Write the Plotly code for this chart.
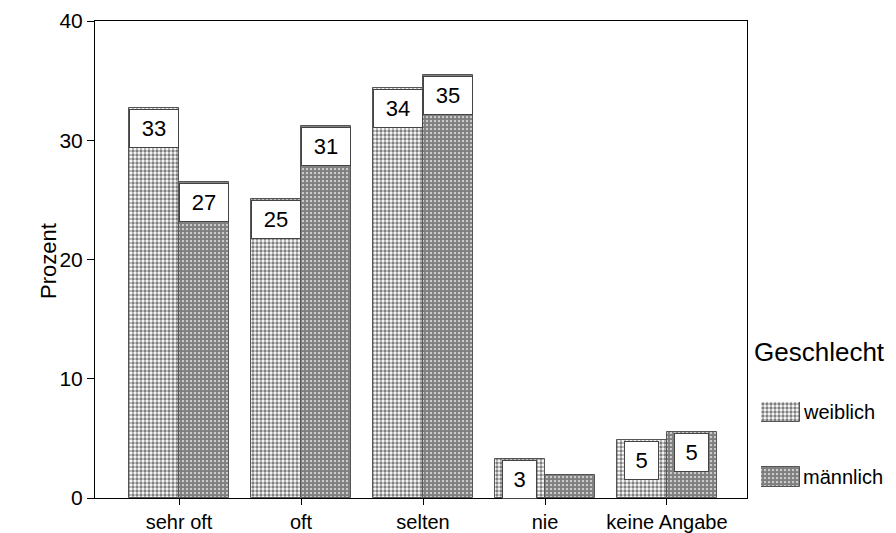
import plotly.graph_objects as go

# Häufigkeit nach Geschlecht (Prozent)
categories = ["sehr oft", "oft", "selten", "nie", "keine Angabe"]
weiblich = [32.7, 25.1, 34.4, 3.3, 4.9]
maennlich = [26.5, 31.2, 35.5, 1.9, 5.5]
labels_w = ["33", "25", "34", "3", "5"]
labels_m = ["27", "31", "35", "", "5"]
y_ticks = [0, 10, 20, 30, 40]

FONT = "Arial, Liberation Sans, sans-serif"
BAR_W = 0.41
PAT_W = dict(shape=".", size=4, solidity=0.55, fgcolor="black", bgcolor="white")
PAT_M = dict(shape=".", size=4, solidity=0.8, fgcolor="black", bgcolor="white")
EDGE = dict(color="#555", width=1)

# the page body has an 8px margin, so the figure is 8px smaller than the window
OFF = 8
W, H = 896 - OFF, 533 - OFF
L, B, T = 95 - OFF, 35, 21 - OFF
pw = W - L
ph = H - B - T


def px(x_ref):
    return (x_ref - OFF - L) / pw


def py(y_ref):
    return (H - B - (y_ref - OFF)) / ph


x_pos = list(range(len(categories)))

fig = go.Figure()
fig.add_trace(go.Bar(
    x=x_pos, y=weiblich, offset=-BAR_W, width=BAR_W, name="weiblich",
    marker=dict(color="white", pattern=PAT_W, line=EDGE), showlegend=False,
))
fig.add_trace(go.Bar(
    x=x_pos, y=maennlich, offset=0, width=BAR_W, name="männlich",
    marker=dict(color="white", pattern=PAT_M, line=EDGE), showlegend=False,
))

# legend swatches drawn on a small helper axis in the right margin
fig.add_trace(go.Bar(
    x=[0], y=[20], base=[65], width=[1], offset=[-0.5], xaxis="x2", yaxis="y2",
    marker=dict(color="white", pattern=PAT_W, line=EDGE),
    showlegend=False, hoverinfo="skip",
))
fig.add_trace(go.Bar(
    x=[0], y=[20], base=[0], width=[1], offset=[-0.5], xaxis="x2", yaxis="y2",
    marker=dict(color="white", pattern=PAT_M, line=EDGE),
    showlegend=False, hoverinfo="skip",
))

# value boxes at the bar tops
for vals, labs, shift in ((weiblich, labels_w, -BAR_W / 2), (maennlich, labels_m, BAR_W / 2)):
    for i, (v, lab) in enumerate(zip(vals, labs)):
        if not lab:
            continue
        fig.add_annotation(
            x=i + shift, y=v, xref="x", yref="y", yanchor="top", yshift=-1,
            text=lab, showarrow=False, font=dict(family=FONT, size=22, color="black"),
            bgcolor="white", bordercolor="#444", borderwidth=1, borderpad=2,
            width=44 if len(lab) > 1 else 29, height=33,
        )

fig.add_annotation(x=px(48), y=py(261), xref="paper", yref="paper",
                   xanchor="center", yanchor="middle", text="Prozent", textangle=-90,
                   showarrow=False, font=dict(family=FONT, size=22, color="black"))
fig.add_annotation(x=px(752), y=py(352), xref="paper", yref="paper",
                   xanchor="left", yanchor="middle", text="Geschlecht", showarrow=False,
                   font=dict(family=FONT, size=26, color="black"))
fig.add_annotation(x=px(801), y=py(412), xref="paper", yref="paper",
                   xanchor="left", yanchor="middle", text="weiblich", showarrow=False,
                   font=dict(family=FONT, size=20, color="black"))
fig.add_annotation(x=px(801), y=py(477), xref="paper", yref="paper",
                   xanchor="left", yanchor="middle", text="männlich", showarrow=False,
                   font=dict(family=FONT, size=20, color="black"))

fig.update_layout(
    width=W, height=H,
    margin=dict(l=L, r=0, t=T, b=B),
    paper_bgcolor="white", plot_bgcolor="white",
    font=dict(family=FONT, size=21, color="black"),
    bargap=0,
    xaxis=dict(
        domain=[0, px(747)], range=[-0.689, 4.656],
        tickvals=x_pos, ticktext=categories, ticks="outside", ticklen=6,
        tickcolor="black", showline=True, linecolor="black", linewidth=1,
        mirror=True, showgrid=False, zeroline=False, automargin=False,
        tickfont=dict(size=20),
    ),
    yaxis=dict(
        range=[0, 40], tickvals=y_ticks, ticks="outside", ticklen=7,
        tickcolor="black", showline=True, linecolor="black", linewidth=1,
        mirror=True, showgrid=False, zeroline=False, automargin=False,
        tickfont=dict(size=21),
    ),
    xaxis2=dict(
        domain=[px(761), px(800)], range=[-0.5, 0.5],
        anchor="y2", visible=False, fixedrange=True,
    ),
    yaxis2=dict(
        domain=[py(487), py(402)], range=[0, 85],
        anchor="x2", visible=False, fixedrange=True,
    ),
)

fig.write_html("out.html")
